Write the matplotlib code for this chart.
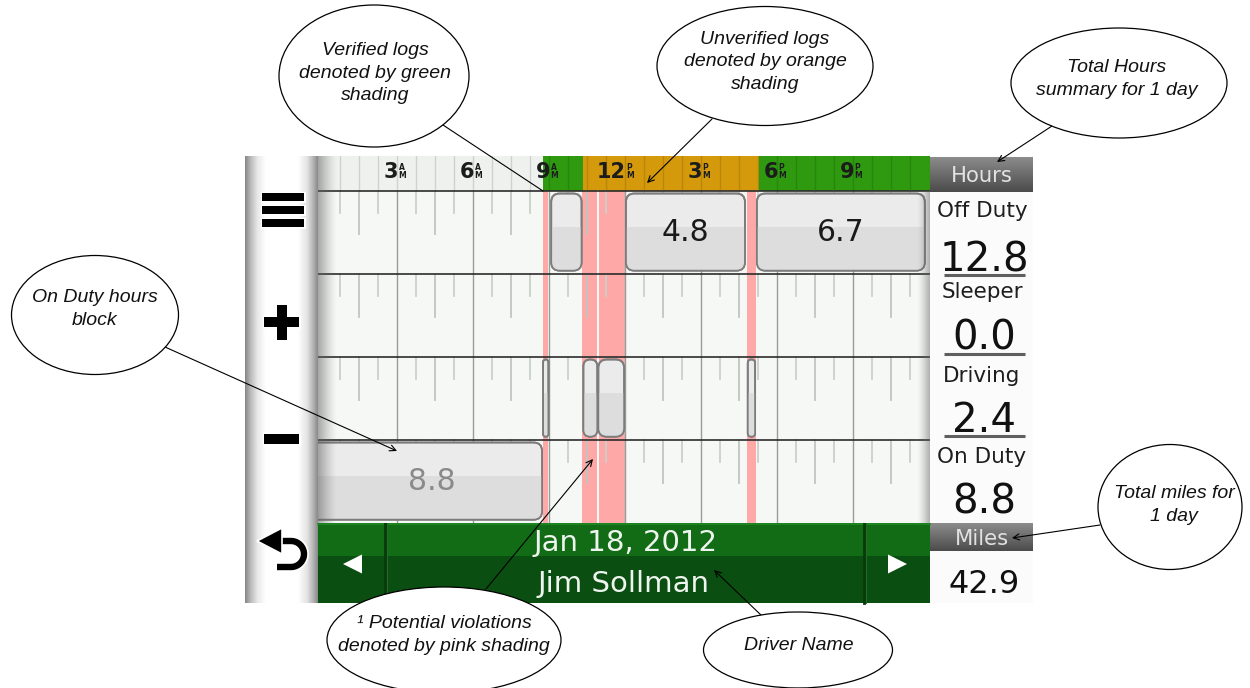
import matplotlib
matplotlib.use("Agg")
import matplotlib.pyplot as plt
import numpy as np
from matplotlib.patches import Rectangle, FancyBboxPatch, Ellipse, Polygon
import matplotlib.patheffects as pe
from matplotlib.colors import to_rgb

# ---------------- data ----------------
hour_ticks = [3, 6, 9, 12, 15, 18, 21]
hour_labels = ["3", "6", "9", "12", "3", "6", "9"]
hour_half = ["A", "A", "A", "P", "P", "P", "P"]

statuses = ["Off Duty", "Sleeper", "Driving", "On Duty"]
status_totals = ["12.8", "0.0", "2.4", "8.8"]
total_miles = "42.9"
log_date = "Jan 18, 2012"
driver_name = "Jim Sollman"

verified_spans = [(8.76, 10.36), (17.30, 24.05)]
unverified_spans = [(10.36, 17.30)]
violation_spans = [(8.76, 8.97), (10.33, 12.0), (16.84, 17.17)]
violation_marks = [10.94]

off_duty_blocks = [(9.1, 10.3), (12.05, 16.75), (17.22, 23.85)]
off_duty_labels = ["", "4.8", "6.7"]
sleeper_blocks = []
sleeper_labels = []
driving_blocks = [(8.78, 8.99), (10.37, 10.92), (10.96, 11.98), (16.86, 17.15)]
driving_labels = ["", "", "", ""]
on_duty_blocks = [(-0.6, 8.74)]
on_duty_labels = ["8.8"]

annotation_texts = [
    "Verified logs\ndenoted by green\nshading",
    "Unverified logs\ndenoted by orange\nshading",
    "Total Hours\nsummary for 1 day",
    "On Duty hours\nblock",
    "Total miles for\n1 day",
    "\u00b9 Potential violations\ndenoted by pink shading",
    "Driver Name",
]

# ---------------- layout ----------------
W, H = 1250, 688
fig = plt.figure(figsize=(12.5, 6.88), dpi=100)
fig.patch.set_facecolor("white")

ax0 = fig.add_axes([0, 0, 1, 1], zorder=0)
ax0.set_xlim(0, W)
ax0.set_ylim(H, 0)
ax0.set_axis_off()


def grad(ax, x0, x1, y0, y1, stops, cols, horizontal=True, zorder=1):
    n = 200
    t = np.linspace(0, 1, n)
    rgb = np.array([to_rgb(c) for c in cols])
    arr = np.stack([np.interp(t, stops, rgb[:, k]) for k in range(3)], axis=-1)
    if horizontal:
        arr = arr[np.newaxis, :, :]
    else:
        arr = arr[:, np.newaxis, :]
    ax.imshow(arr, extent=(x0, x1, y1, y0), aspect="auto",
              interpolation="bilinear", zorder=zorder, origin="upper")


# left toolbar
grad(ax0, 245, 319, 156, 603,
     [0, 0.07, 0.17, 0.28, 0.72, 0.84, 0.93, 1.0],
     ["#858585", "#b8b8b8", "#e9e9e9", "#ffffff", "#ffffff", "#e4e4e4", "#b0b0b0", "#808080"])

# toolbar icons (white outline, black fill)
icon_rects = [(262, 193, 42, 8), (262, 206, 42, 8), (262, 219, 42, 8),
              (264, 317, 35, 10), (276.5, 305, 10, 35),
              (264, 434, 35, 10)]
for (x, y, w, h) in icon_rects:
    ax0.add_patch(Rectangle((x, y), w, h, fc="black", ec="white", lw=2.2, zorder=5))
for (x, y, w, h) in icon_rects:
    ax0.add_patch(Rectangle((x, y), w, h, fc="black", ec="none", zorder=6))
# back arrow
t = np.linspace(np.pi / 2, -np.pi / 2, 40)
bx = np.concatenate([[279], 291 + 13 * np.cos(t), [277]])
by = np.concatenate([[541], 554 - 13 * np.sin(t), [567]])
ax0.plot(bx, by, color="black", lw=4.6, solid_capstyle="butt", zorder=6,
         path_effects=[pe.Stroke(linewidth=7.0, foreground="white"), pe.Normal()])
ax0.add_patch(Polygon([(257, 541), (282, 528), (282, 554)], closed=True,
                      fc="black", ec="white", lw=1.2, zorder=7))

# right panel
ax0.add_patch(Rectangle((930, 156), 103, 447, fc="#fbfbfb", ec="none", zorder=1))
grad(ax0, 930, 1033, 157, 192, [0, 1], ["#8c8c8c", "#4b4b4b"], horizontal=False, zorder=2)
grad(ax0, 930, 1033, 523, 551, [0, 1], ["#8c8c8c", "#4b4b4b"], horizontal=False, zorder=2)
ax0.text(982, 182, "Hours", ha="center", va="baseline", fontsize=15.2,
         color="#e2e2e2", family="DejaVu Sans", zorder=3)
ax0.text(982, 545, "Miles", ha="center", va="baseline", fontsize=15.2,
         color="#e2e2e2", family="DejaVu Sans", zorder=3)

label_base = [217, 298, 382, 463]
value_base = [271, 350, 432, 513]
for i, (name, val) in enumerate(zip(statuses, status_totals)):
    ax0.text(982, label_base[i], name, ha="center", va="baseline", fontsize=15.5,
             color="#1e1e1e", family="DejaVu Sans", zorder=3)
    ax0.text(984, value_base[i], val, ha="center", va="baseline", fontsize=29,
             color="#111111", family="DejaVu Sans", zorder=3)
    if i < 3:
        ax0.plot([944, 1025], [value_base[i] + 4, value_base[i] + 4], color="#5f5f5f",
                 lw=2.2, zorder=3, solid_capstyle="butt")
ax0.text(984, 593, total_miles, ha="center", va="baseline", fontsize=23,
         color="#111111", family="DejaVu Sans", zorder=3)

# bottom bar
ax0.add_patch(Rectangle((318, 523), 612, 34, fc="#116c15", ec="none", zorder=1))
ax0.add_patch(Rectangle((318, 556), 612, 47, fc="#0b4e12", ec="none", zorder=1))
ax0.plot([318, 930], [524, 524], color="#1f8a24", lw=1.2, zorder=2)
for xd in (385, 864):
    ax0.plot([xd, xd], [523, 603], color="#083a0c", lw=2.0, zorder=2)
    ax0.plot([xd + 1.8, xd + 1.8], [523, 603], color="#236d27", lw=0.7, zorder=2)
ax0.add_patch(Polygon([(343, 564), (362, 554.5), (362, 573.5)], closed=True,
                      fc="white", ec="none", zorder=3))
ax0.add_patch(Polygon([(907, 564), (888, 554.5), (888, 573.5)], closed=True,
                      fc="white", ec="none", zorder=3))
ax0.text(625, 551, log_date, ha="center", va="baseline", fontsize=21,
         color="#eef4ee", family="DejaVu Sans", zorder=3)
ax0.text(624, 592, driver_name, ha="center", va="baseline", fontsize=21,
         color="#eef4ee", family="DejaVu Sans", zorder=3)

# ---------------- timeline axes ----------------
PX_H = 25.33
X0_PX = 320.7
ROW_PX = 83.0
HDR = 35.0 / ROW_PX
xmin_h, xmax_h = -0.1, 24.05
left_px = X0_PX + xmin_h * PX_H
right_px = X0_PX + xmax_h * PX_H
top_px, bot_px = 156, 523
ax = fig.add_axes([left_px / W, 1 - bot_px / H, (right_px - left_px) / W,
                   (bot_px - top_px) / H], zorder=1)
ax.set_xlim(xmin_h, xmax_h)
ax.set_ylim(4, -HDR)
ax.set_axis_off()

ax.add_patch(Rectangle((xmin_h, 0), xmax_h - xmin_h, 4, fc="#f5f8f5", ec="none", zorder=0))
ax.add_patch(Rectangle((xmin_h, -HDR), xmax_h - xmin_h, HDR, fc="#eef1ee", ec="none", zorder=0))
for a, b in verified_spans:
    ax.add_patch(Rectangle((a, -HDR), b - a, HDR, fc="#2f9a10", ec="none", zorder=1))
for a, b in unverified_spans:
    ax.add_patch(Rectangle((a, -HDR), b - a, HDR, fc="#d59a0c", ec="none", zorder=1))
for a, b in violation_spans:
    ax.add_patch(Rectangle((a, 0), b - a, 4, fc="#ffa8a8", ec="none", zorder=1))
for m in violation_marks:
    ax.plot([m, m], [0, 4], color="white", lw=1.3, zorder=1.5)

tick_pos = np.arange(0.75, 24.0, 0.75)
for tp in tick_pos:
    ax.plot([tp, tp], [-HDR, 0], color=(0, 0, 0, 0.13), lw=1.0, zorder=2)
    kind = round(tp % 3, 2)
    for r in range(4):
        if kind == 0:
            ax.plot([tp, tp], [r, r + 1], color="#979e97", lw=1.0, zorder=2)
        elif kind == 1.5:
            ax.plot([tp, tp], [r, r + 0.52], color="#bfc6bf", lw=1.3, zorder=2)
        else:
            ax.plot([tp, tp], [r, r + 0.27], color="#c9d0c9", lw=1.3, zorder=2)
for r in range(4):
    ax.plot([xmin_h, xmax_h], [r, r], color="#2c2c2c", lw=1.2, zorder=3)

hdr_base = -(191 - 178.3) / ROW_PX
for h, lab, half in zip(hour_ticks, hour_labels, hour_half):
    ax.text(h + 0.06, hdr_base, lab, ha="right", va="baseline", fontsize=15,
            fontweight="bold", color="#1c1c1c", family="DejaVu Sans", zorder=4)
    ax.text(h + 0.08, -(191 - 170.5) / ROW_PX, half, ha="left", va="baseline",
            fontsize=5.5, fontweight="bold", color="#1c1c1c", family="DejaVu Sans", zorder=4)
    ax.text(h + 0.08, -(191 - 177.8) / ROW_PX, "M", ha="left", va="baseline",
            fontsize=5.5, fontweight="bold", color="#1c1c1c", family="DejaVu Sans", zorder=4)

ASP = PX_H / ROW_PX


def draw_block(h0, h1, row, label, color):
    top = row + 0.03
    bot = row + 0.96
    w = h1 - h0
    r = min(0.34, w / 2 * 0.98)
    patch = FancyBboxPatch((h0, top), w, bot - top,
                           boxstyle=f"round,pad=0,rounding_size={r}",
                           mutation_aspect=ASP, fc="#eaebea", ec="#808080",
                           lw=1.3, zorder=5)
    ax.add_patch(patch)
    lower = Rectangle((h0 - 1, top + (bot - top) * 0.43), w + 2, bot - top,
                      fc="#dcdddc", ec="none", zorder=5.1)
    ax.add_patch(lower)
    lower.set_clip_path(patch)
    edge = FancyBboxPatch((h0, top), w, bot - top,
                          boxstyle=f"round,pad=0,rounding_size={r}",
                          mutation_aspect=ASP, fc="none", ec="#7c7c7c",
                          lw=1.3, zorder=5.2)
    ax.add_patch(edge)
    if label:
        ax.text((max(h0, 0) + h1) / 2, row + 0.6, label, ha="center", va="baseline",
                fontsize=21.5, color=color, family="DejaVu Sans", zorder=6)


for (a, b), lab in zip(off_duty_blocks, off_duty_labels):
    draw_block(a, b, 0, lab, "#1a1a1a")
for (a, b), lab in zip(sleeper_blocks, sleeper_labels):
    draw_block(a, b, 1, lab, "#1a1a1a")
for (a, b), lab in zip(driving_blocks, driving_labels):
    draw_block(a, b, 2, lab, "#1a1a1a")
for (a, b), lab in zip(on_duty_blocks, on_duty_labels):
    draw_block(a, b, 3, lab, "#8a8a8a")

# edge shadows
sh = np.zeros((1, 100, 4))
sh[..., :3] = 0.38
sh[0, :, 3] = np.linspace(0.62, 0.0, 100) ** 1.3
ax.imshow(sh, extent=(xmin_h, 0.62, 4, -HDR), aspect="auto", zorder=8,
          interpolation="bilinear", origin="upper")
sh2 = np.zeros((1, 100, 4))
sh2[..., :3] = 0.38
sh2[0, :, 3] = np.linspace(0.0, 0.6, 100) ** 1.4
ax.imshow(sh2, extent=(23.55, xmax_h, 4, 0), aspect="auto", zorder=8,
          interpolation="bilinear", origin="upper")
ax.set_xlim(xmin_h, xmax_h)
ax.set_ylim(4, -HDR)

# ---------------- annotation layer ----------------
axa = fig.add_axes([0, 0, 1, 1], zorder=3)
axa.set_xlim(0, W)
axa.set_ylim(H, 0)
axa.set_axis_off()

ell = [(374, 76, 190, 142), (765, 66, 216, 119), (1119, 83, 216, 110),
       (95, 315, 167, 119), (1170, 507, 144, 125), (444, 640, 234, 106),
       (798, 650, 189, 76)]
txt_pos = [(375, 73), (765, 62), (1117, 79), (95, 309), (1174, 505), (444, 635), (799, 645)]
starts = [(443, 125), (712, 119), (1052, 126), (165, 347), (1100, 525), (486, 589), (762, 616)]
tips = [(543, 191), (647, 183), (997, 162), (397, 451), (1012, 538), (593, 459), (714, 570)]
heads = [False, True, True, True, True, True, True]

for (cx, cy, ew, eh), (tx, ty), s, tp, hd, txt in zip(ell, txt_pos, starts, tips, heads, annotation_texts):
    axa.annotate("", xy=tp, xytext=s,
                 arrowprops=dict(arrowstyle="->" if hd else "-", lw=0.8, color="black",
                                 shrinkA=0, shrinkB=0, mutation_scale=11))
    axa.add_patch(Ellipse((cx, cy), ew, eh, fc="white", ec="black", lw=0.9, zorder=4))
    axa.text(tx, ty, txt, ha="center", va="center", fontsize=14, style="italic",
             family=["Liberation Sans", "DejaVu Sans"], linespacing=1.45,
             color="#111111", zorder=5)

fig.savefig("out.png", dpi=100, facecolor="white")
